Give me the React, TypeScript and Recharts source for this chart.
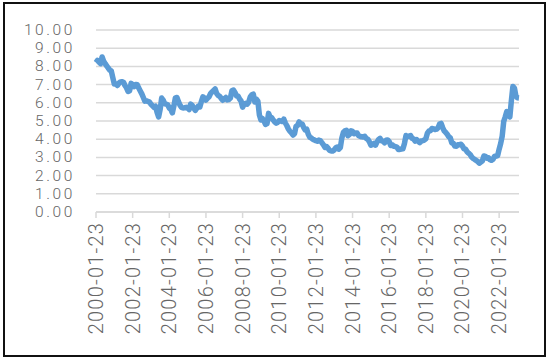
import React from "react";
import { LineChart, Line, XAxis, YAxis, CartesianGrid } from "recharts";

// Monthly values (Jan..Dec)
const years = [2000, 2001, 2002, 2003, 2004, 2005, 2006, 2007, 2008, 2009, 2010, 2011, 2012, 2013, 2014, 2015, 2016, 2017, 2018, 2019, 2020, 2021, 2022, 2023];
const rates2000 = [8.21, 8.33, 8.24, 8.15, 8.52, 8.29, 8.15, 8.03, 7.91, 7.8, 7.75, 7.38];
const rates2001 = [7.03, 7.05, 6.95, 7.08, 7.15, 7.16, 7.13, 6.95, 6.82, 6.62, 6.66, 7.07];
const rates2002 = [7.0, 6.89, 7.01, 6.99, 6.81, 6.65, 6.49, 6.29, 6.09, 6.11, 6.07, 6.05];
const rates2003 = [5.92, 5.84, 5.75, 5.81, 5.48, 5.23, 5.63, 6.26, 6.15, 5.95, 5.93, 5.88];
const rates2004 = [5.71, 5.64, 5.45, 5.83, 6.27, 6.29, 6.06, 5.87, 5.75, 5.72, 5.73, 5.75];
const rates2005 = [5.71, 5.63, 5.93, 5.86, 5.72, 5.58, 5.7, 5.82, 5.77, 6.07, 6.33, 6.27];
const rates2006 = [6.15, 6.25, 6.32, 6.51, 6.6, 6.68, 6.76, 6.52, 6.4, 6.36, 6.24, 6.14];
const rates2007 = [6.22, 6.29, 6.16, 6.18, 6.26, 6.66, 6.7, 6.57, 6.38, 6.38, 6.21, 6.1];
const rates2008 = [5.76, 5.92, 5.97, 5.92, 6.04, 6.32, 6.43, 6.48, 6.04, 6.2, 6.09, 5.33];
const rates2009 = [5.06, 5.13, 5.0, 4.81, 4.86, 5.42, 5.22, 5.19, 5.06, 4.95, 4.88, 4.93];
const rates2010 = [5.03, 4.99, 4.97, 5.1, 4.89, 4.74, 4.56, 4.43, 4.35, 4.23, 4.3, 4.71];
const rates2011 = [4.76, 4.95, 4.84, 4.84, 4.64, 4.51, 4.55, 4.27, 4.11, 4.07, 3.99, 3.96];
const rates2012 = [3.92, 3.89, 3.95, 3.91, 3.8, 3.68, 3.55, 3.6, 3.5, 3.38, 3.35, 3.35];
const rates2013 = [3.41, 3.53, 3.57, 3.45, 3.54, 4.07, 4.37, 4.46, 4.49, 4.19, 4.26, 4.46];
const rates2014 = [4.43, 4.3, 4.34, 4.34, 4.19, 4.16, 4.13, 4.12, 4.16, 4.04, 4.0, 3.86];
const rates2015 = [3.67, 3.71, 3.77, 3.67, 3.84, 3.98, 4.05, 3.91, 3.89, 3.8, 3.94, 3.96];
const rates2016 = [3.87, 3.66, 3.69, 3.61, 3.6, 3.57, 3.44, 3.44, 3.46, 3.47, 3.77, 4.2];
const rates2017 = [4.15, 4.17, 4.2, 4.05, 4.01, 3.9, 3.97, 3.88, 3.81, 3.9, 3.92, 3.95];
const rates2018 = [4.03, 4.33, 4.44, 4.47, 4.59, 4.57, 4.53, 4.55, 4.63, 4.83, 4.87, 4.64];
const rates2019 = [4.46, 4.37, 4.27, 4.14, 4.07, 3.8, 3.77, 3.62, 3.61, 3.69, 3.7, 3.72];
const rates2020 = [3.62, 3.47, 3.45, 3.31, 3.23, 3.16, 3.02, 2.94, 2.89, 2.83, 2.77, 2.68];
const rates2021 = [2.74, 2.81, 3.08, 3.06, 2.96, 2.98, 2.87, 2.84, 2.9, 3.07, 3.07, 3.1];
const rates2022 = [3.45, 3.76, 4.17, 4.98, 5.23, 5.52, 5.41, 5.22, 6.11, 6.9, 6.81, 6.36];
const rates2023 = [6.27, 6.26];

const ratesByYear = [
  rates2000, rates2001, rates2002, rates2003, rates2004, rates2005, rates2006, rates2007,
  rates2008, rates2009, rates2010, rates2011, rates2012, rates2013, rates2014, rates2015,
  rates2016, rates2017, rates2018, rates2019, rates2020, rates2021, rates2022, rates2023,
];

const yTicks = [0, 1, 2, 3, 4, 5, 6, 7, 8, 9, 10];

const data: { date: string; value: number }[] = [];
years.forEach((yr, i) => {
  ratesByYear[i].forEach((v, m) => {
    const mm = String(m + 1).padStart(2, "0");
    data.push({ date: `${yr}-${mm}-23`, value: v });
  });
});

const FONT = "Roboto, 'Liberation Sans', sans-serif";
const TEXT_COLOR = "#666666";

function XTick(props: any) {
  const { x, y, payload } = props;
  return (
    <text
      x={x}
      y={y}
      transform={`rotate(-90 ${x} ${y})`}
      textAnchor="end"
      dominantBaseline="central"
      fontFamily={FONT}
      fontWeight={300}
      fontSize={20}
      letterSpacing={1.2}
      fill={TEXT_COLOR}
    >
      {payload.value}
    </text>
  );
}

function YTick(props: any) {
  const { x, y, payload } = props;
  return (
    <text
      x={x}
      y={y}
      textAnchor="end"
      dominantBaseline="central"
      fontFamily={FONT}
      fontWeight={300}
      fontSize={15.5}
      letterSpacing={2.6}
      fill={TEXT_COLOR}
    >
      {Number(payload.value).toFixed(2)}
    </text>
  );
}

export default function App() {
  return (
    <div style={{ position: "absolute", left: 0, top: 0, width: 550, height: 360, background: "#fff" }}>
      <div
        style={{
          position: "absolute",
          left: 3,
          top: 2,
          width: 543,
          height: 355,
          border: "2px solid #111",
          boxSizing: "border-box",
        }}
      />
      <div style={{ position: "absolute", left: 0, top: 0 }}>
        <LineChart width={550} height={360} data={data} margin={{ top: 30, right: 31, bottom: 20, left: 0 }}>
          <CartesianGrid vertical={false} stroke="#d9d9d9" strokeWidth={1.5} />
          <XAxis
            dataKey="date"
            interval={23}
            height={128}
            tickSize={6}
            tickMargin={4}
            axisLine={{ stroke: "#d9d9d9", strokeWidth: 1.5 }}
            tickLine={{ stroke: "#d9d9d9", strokeWidth: 1.5 }}
            tick={<XTick />}
          />
          <YAxis
            domain={[0, 10]}
            ticks={yTicks}
            interval={0}
            width={96}
            axisLine={false}
            tickLine={false}
            tickSize={0}
            tickMargin={21}
            tick={<YTick />}
          />
          <Line
            type="linear"
            dataKey="value"
            stroke="#5b9bd5"
            strokeWidth={5.5}
            dot={false}
            strokeLinejoin="round"
            isAnimationActive={false}
          />
        </LineChart>
      </div>
    </div>
  );
}
